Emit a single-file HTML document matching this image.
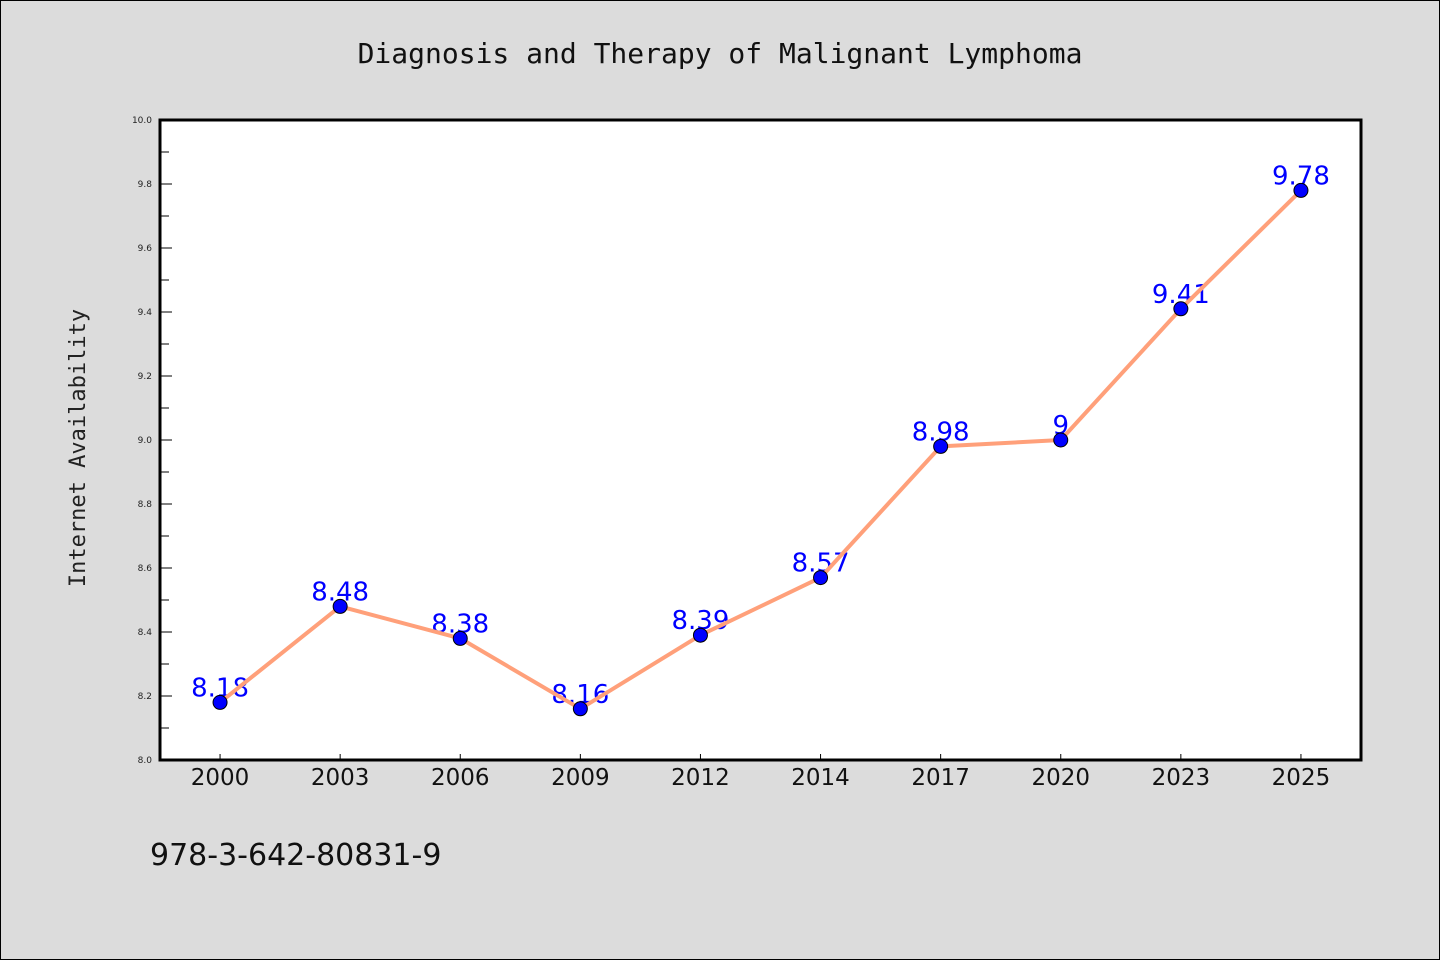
<!DOCTYPE html>
<html><head><meta charset="utf-8"><style>
html,body{margin:0;padding:0;background:#dcdcdc;}
svg{display:block;}
</style></head><body>
<svg id="chart" width="1440" height="960" xmlns="http://www.w3.org/2000/svg">
<rect x="0.5" y="0.5" width="1439" height="959" fill="#dcdcdc" stroke="#000" stroke-width="1"/>
<text x="720" y="63" text-anchor="middle" font-family="DejaVu Sans Mono, Liberation Mono, monospace" font-size="28" fill="#111">Diagnosis and Therapy of Malignant Lymphoma</text>
<text transform="translate(85,448) rotate(-90)" text-anchor="middle" font-family="DejaVu Sans Mono, Liberation Mono, monospace" font-size="22" fill="#222">Internet Availability</text>
<text x="150" y="865" font-family="DejaVu Sans, Liberation Sans, sans-serif" font-size="30" fill="#111">978-3-642-80831-9</text>
<rect x="160" y="120" width="1201" height="640" fill="#fff"/>
<g id="ticks"></g>
<g id="labels"></g>
<g id="series"></g>
<rect x="160" y="120" width="1201" height="640" fill="none" stroke="#000" stroke-width="3"/>
</svg>
<script>
const categories = ["2000","2003","2006","2009","2012","2014","2017","2020","2023","2025"];
const values = [8.18,8.48,8.38,8.16,8.39,8.57,8.98,9.0,9.41,9.78];
const valueLabels = ["8.18","8.48","8.38","8.16","8.39","8.57","8.98","9","9.41","9.78"];
const yTicks = [8.0,8.2,8.4,8.6,8.8,9.0,9.2,9.4,9.6,9.8,10.0];
const yMin = 8.0, yMax = 10.0;
const L=160, R=1361, T=120, B=760;
const NS="http://www.w3.org/2000/svg";
const bw=(R-L)/categories.length;
function xs(i){return L+bw*(i+0.5);}
function ys(v){return B-(v-yMin)/(yMax-yMin)*(B-T);}
function mk(tag,attrs,parent){const e=document.createElementNS(NS,tag);for(const k in attrs)e.setAttribute(k,attrs[k]);parent.appendChild(e);return e;}
const tg=document.getElementById('ticks'), lg=document.getElementById('labels'), sg=document.getElementById('series');
yTicks.forEach((v,i)=>{
  const y=ys(v);
  const t=mk('line',{x1:L,x2:L+12,y1:y,y2:y,stroke:'#000','stroke-width':1},tg);
  
  
  const lb=mk('text',{x:L-8,y:y+3,'text-anchor':'end','font-family':'DejaVu Sans, sans-serif','font-size':9,fill:'#222'},tg);
  lb.textContent=v.toFixed(1);
  
  
  if(i<yTicks.length-1){
    const ym=ys(v+(yTicks[i+1]-v)/2);
    const m=mk('line',{x1:L,x2:L+9,y1:ym,y2:ym,stroke:'#000','stroke-width':1},tg);
    
    
  }
});
categories.forEach((c,i)=>{
  const x=xs(i);
  const t=mk('line',{x1:x,x2:x,y1:B,y2:B-6,stroke:'#000','stroke-width':1},tg);
  
  
  const lb=mk('text',{x:x,y:B+25,'text-anchor':'middle','font-family':'DejaVu Sans, Liberation Sans, sans-serif','font-size':23,fill:'#111'},tg);
  lb.textContent=c;
  
  
});
values.forEach((v,i)=>{
  const lb=mk('text',{x:xs(i),y:ys(v)-6,'text-anchor':'middle','font-family':'DejaVu Sans, Liberation Sans, sans-serif','font-size':26,fill:'#0000ff'},lg);
  lb.textContent=valueLabels[i];
  
  
});
const pl=mk('polyline',{points:values.map((v,i)=>xs(i)+','+ys(v)).join(' '),fill:'none',stroke:'#ffa07a','stroke-width':4,'stroke-linejoin':'round'},sg);


values.forEach((v,i)=>{
  const c=mk('circle',{cx:xs(i),cy:ys(v),r:7,fill:'#0000ff',stroke:'#000','stroke-width':1},sg);
  
  
});
</script>
</body></html>
